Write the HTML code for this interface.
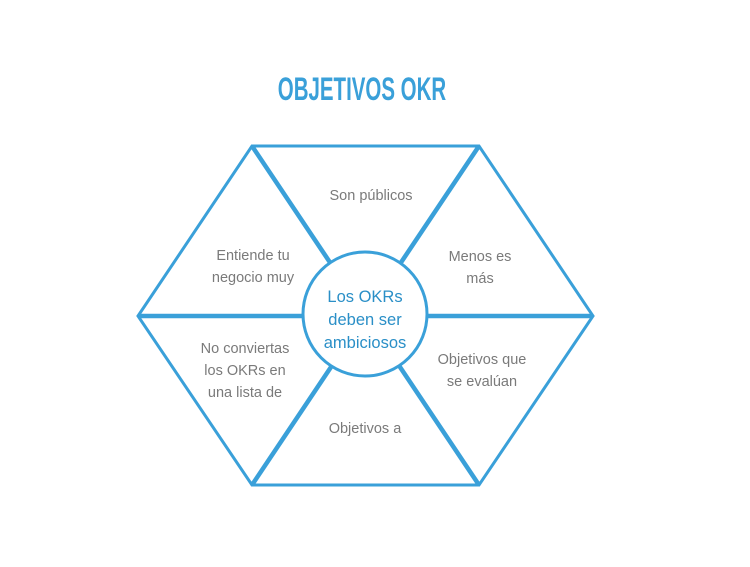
<!DOCTYPE html>
<html><head><style>
body{margin:0;background:#fff;width:750px;height:562px;overflow:hidden}
</style></head><body>
<svg width="750" height="562" xmlns="http://www.w3.org/2000/svg">
<text x="362" y="100" text-anchor="middle" font-family="Liberation Sans Narrow, Liberation Sans, sans-serif" font-weight="bold" font-size="32" fill="#3aa0d9" transform="translate(362 0) scale(0.64 1) translate(-362 0)">OBJETIVOS OKR</text>
<g stroke="#3aa0d9" fill="none" stroke-linejoin="miter">
<polygon points="138,316 252,146 479,146 593,316 479,485 252,485" stroke-width="3"/>
<line x1="252" y1="146" x2="479" y2="485" stroke-width="4.5"/>
<line x1="479" y1="146" x2="252" y2="485" stroke-width="4.5"/>
<line x1="138" y1="316" x2="593" y2="316" stroke-width="4.5"/>
<circle cx="365" cy="314" r="62" fill="#fff" stroke-width="3"/>
</g>
<g font-family="Liberation Sans, sans-serif" font-size="14.5" fill="#7a7a7a" text-anchor="middle">
<text x="371" y="200">Son públicos</text>
<text x="253" y="260">Entiende tu</text>
<text x="253" y="282">negocio muy</text>
<text x="480" y="261">Menos es</text>
<text x="480" y="283">más</text>
<text x="245" y="353">No conviertas</text>
<text x="245" y="375">los OKRs en</text>
<text x="245" y="397">una lista de</text>
<text x="482" y="364">Objetivos que</text>
<text x="482" y="386">se evalúan</text>
<text x="365" y="433">Objetivos a</text>
</g>
<g font-family="Liberation Sans, sans-serif" font-size="16.5" fill="#2a8fc7" text-anchor="middle">
<text x="365" y="302">Los OKRs</text>
<text x="365" y="325">deben ser</text>
<text x="365" y="348">ambiciosos</text>
</g>
</svg>
</body></html>
